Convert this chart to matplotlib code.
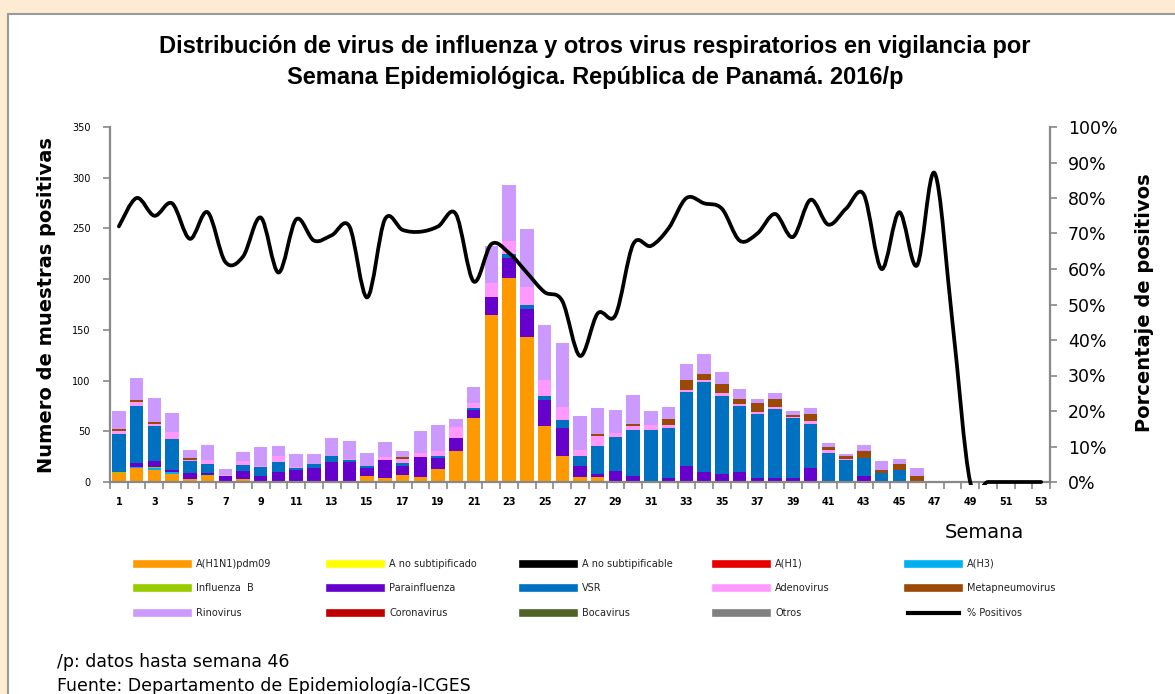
import matplotlib

matplotlib.use("Agg")
import matplotlib.pyplot as plt
import numpy as np
from matplotlib.lines import Line2D
from matplotlib.patches import PathPatch, Rectangle
from matplotlib.path import Path

# semanas con datos de laboratorio (hasta semana 46)
weeks = list(range(1, 47))
all_weeks = list(range(1, 54))

h1n1pdm09 = [9, 14, 12, 8, 3, 6, 0, 3, 0, 0, 0, 0, 0, 0, 6, 4, 7, 5, 13, 31,
             63, 165, 201, 143, 55, 26, 5, 5, 0, 0, 0, 0, 0, 0, 0, 0, 0, 0, 0, 0,
             0, 0, 0, 0, 0, 0]
a_no_subtipificado = [0] * 46
a_no_subtipificable = [0] * 46
a_h1 = [0] * 46
a_h3 = [0, 1, 2, 1.5, 0, 0, 0, 0, 0, 0, 0, 0, 0, 0, 0, 0, 0, 0, 0, 0,
        0, 0, 0, 0, 0, 0, 0, 0, 0, 0, 0, 0, 0, 0, 0, 0, 0, 0, 0, 0,
        0, 0, 0, 0, 0, 0]
influenza_b = [1, 0, 1, 0, 0, 1, 0, 0, 0, 0, 0, 0, 0, 0, 0, 0, 0, 0, 0, 0,
               0, 0, 0, 0, 0, 0, 0, 0, 0, 0, 0, 0, 0, 0, 0, 0, 0, 0, 0, 0,
               0, 0, 0, 0, 0, 0]
parainfluenza = [0, 4, 6, 2, 5.5, 2, 6, 7.5, 6, 10, 12, 13.5, 19.5, 19.5, 7.5, 17.5,
                 9, 20, 10.5, 12, 7.5, 17.5, 20, 27.5, 25.5, 27, 11, 3, 11, 6,
                 0, 4, 16, 9.5, 8, 9.5, 4, 4, 4, 13.5, 0, 0, 5.5, 0, 0, 0]
vsr = [37, 56, 34, 31, 12, 9, 0, 6, 9, 10, 2, 4, 6, 2.5, 2.5, 0, 3, 0, 2, 0,
       2, 0, 4, 4, 4, 8, 10, 27.5, 33.5, 45, 51, 49, 73, 89, 77, 65, 63, 68, 59, 44,
       29, 22, 18, 8.5, 11.5, 0]
adenovirus = [3, 4, 2.5, 6.5, 1.5, 4, 1, 4.5, 1, 5.5, 1, 0, 0, 1, 0, 3, 4, 3.5, 5.5, 11,
              5, 14, 13, 17.5, 16, 13, 6, 10, 4, 4, 5.5, 3.5, 2, 2, 2.5, 2, 2.3, 2.3, 1, 2.3,
              2.3, 0.7, 0, 0, 0, 0]
metapneumovirus = [2, 2, 2, 0, 2, 0, 0, 0, 0, 0, 0, 0, 0, 0, 0, 0, 2, 0, 0, 0,
                   0, 0, 0, 0, 0, 0, 0, 2, 0, 2, 0, 5.5, 10, 6, 9, 5.5, 9, 7.5, 1.6, 7.5,
                   3.3, 3.3, 7.5, 3.3, 6, 6]
rinovirus = [18, 22, 23, 19, 8, 14, 6, 9, 19, 10, 12.5, 10, 17.5, 17, 13, 15, 6, 22, 25.5, 8,
             16, 36, 55, 57, 54, 63, 33.5, 25, 22, 29, 13.5, 12, 15.5, 19.5, 12, 10, 4, 6, 4.3, 5.6,
             4.3, 2, 5.6, 9.2, 5.6, 7.6]
coronavirus = [0] * 46
bocavirus = [0] * 46
otros = [0] * 46

pct_positivos = [72, 80, 75, 78.5, 68.5, 76, 62, 63.5, 74.5, 59, 74, 68, 69.5, 72, 52, 74,
                 71, 70.5, 72, 75.5, 56.5, 67, 64.5, 59, 53.5, 51, 35.5, 47.5, 47, 67,
                 66.5, 71.5, 80, 78.5, 77, 68, 70, 75.5, 69, 79.5, 72.5, 77, 81, 60, 76,
                 61, 87, 45, 0, 0, 0, 0, 0]

series = [
    ("A(H1N1)pdm09", h1n1pdm09, "#FF9900"),
    ("A no subtipificado", a_no_subtipificado, "#FFFF00"),
    ("A no subtipificable", a_no_subtipificable, "#000000"),
    ("A(H1)", a_h1, "#E60000"),
    ("A(H3)", a_h3, "#00B0F0"),
    ("Influenza  B", influenza_b, "#99CC00"),
    ("Parainfluenza", parainfluenza, "#6600CC"),
    ("VSR", vsr, "#0070C0"),
    ("Adenovirus", adenovirus, "#FF99FF"),
    ("Metapneumovirus", metapneumovirus, "#9A4A06"),
    ("Rinovirus", rinovirus, "#CC99FF"),
    ("Coronavirus", coronavirus, "#C00000"),
    ("Bocavirus", bocavirus, "#4F6228"),
    ("Otros", otros, "#808080"),
]

GRAY = "#888888"
W, H = 1175, 694


def fx(px):
    return px / W


def fy(py):
    return 1 - py / H


def smooth_path(xs, ys):
    # curva suavizada tipo Excel (Catmull-Rom -> Bezier cubica)
    verts = [(xs[0], ys[0])]
    codes = [Path.MOVETO]
    n = len(xs)
    for i in range(n - 1):
        x0, y0 = (xs[i - 1], ys[i - 1]) if i > 0 else (xs[i], ys[i])
        x1, y1 = xs[i], ys[i]
        x2, y2 = xs[i + 1], ys[i + 1]
        x3, y3 = (xs[i + 2], ys[i + 2]) if i + 2 < n else (x2, y2)
        verts += [(x1 + (x2 - x0) / 6, y1 + (y2 - y0) / 6),
                  (x2 - (x3 - x1) / 6, y2 - (y3 - y1) / 6),
                  (x2, y2)]
        codes += [Path.CURVE4] * 3
    return Path(verts, codes)


fig = plt.figure(figsize=(W / 100, H / 100), dpi=100)
fig.patch.set_facecolor("#FDEBD3")
fig.add_artist(Rectangle((fx(8), -0.05), 1.2, fy(14) + 0.05, transform=fig.transFigure,
                         facecolor="white", edgecolor="#9A9A9A", linewidth=1.5, zorder=0))

ax = fig.add_axes([fx(110), fy(482), fx(940), 355 / H])
ax.set_facecolor("none")

bottom = np.zeros(len(weeks))
for name, vals, color in series:
    v = np.array(vals, dtype=float)
    ax.bar(weeks, v, width=0.76, bottom=bottom, color=color, linewidth=0, zorder=2)
    bottom += v

ax.set_xlim(0.5, 53.5)
ax.set_ylim(0, 350)
ax.set_yticks(range(0, 351, 50))
ax.set_xticks(range(1, 54, 2))
ax.set_xticklabels([str(w) for w in range(1, 54, 2)], fontsize=7, fontweight="bold")
ax.set_xticks(np.arange(0.5, 54, 1), minor=True)
ax.tick_params(axis="x", which="major", length=0, pad=11)
ax.tick_params(axis="x", which="minor", length=5, width=1.2, color=GRAY, direction="out")
ax.tick_params(axis="y", length=5, width=1.2, color=GRAY, labelsize=7, pad=9)
for s in ("top", "right"):
    ax.spines[s].set_visible(False)
for s in ("left", "bottom"):
    ax.spines[s].set_color(GRAY)
    ax.spines[s].set_linewidth(1.6)

ax2 = ax.twinx()
ax2.set_ylim(0, 100)
ax2.set_yticks(range(0, 101, 10))
ax2.set_yticklabels([f"{v}%" for v in range(0, 101, 10)], fontsize=12.5)
ax2.tick_params(axis="y", length=5, width=1.2, color=GRAY, pad=8)
for s in ("top", "left", "bottom"):
    ax2.spines[s].set_visible(False)
ax2.spines["right"].set_color(GRAY)
ax2.spines["right"].set_linewidth(1.6)

line = PathPatch(smooth_path(all_weeks, pct_positivos), facecolor="none", edgecolor="black",
                 linewidth=2.7, capstyle="round", joinstyle="round", zorder=3)
ax2.add_patch(line)
line.set_clip_path(Rectangle((0, -0.008), 1, 1.1, transform=ax2.transAxes))

fig.text(fx(595), fy(62),
         "Distribución de virus de influenza y otros virus respiratorios en vigilancia por\n"
         "Semana Epidemiológica. República de Panamá. 2016/p",
         ha="center", va="center", fontsize=17, fontweight="bold",
         family="Liberation Sans", linespacing=1.4)
fig.text(fx(47), fy(305), "Numero de muestras positivas", rotation=90, ha="center", va="center",
         fontsize=14, fontweight="bold")
fig.text(fx(1145), fy(303), "Porcentaje de positivos", rotation=90, ha="center", va="center",
         fontsize=14, fontweight="bold")
fig.text(fx(984), fy(533), "Semana", ha="center", va="center", fontsize=14)

# leyenda en 3 filas x 5 columnas
col_x = [137, 330, 523, 716, 908]
row_y = [564, 588, 613]
legend_items = [(n, c) for n, _, c in series] + [("% Positivos", "black")]
for i, (name, color) in enumerate(legend_items):
    r, c = divmod(i, 5)
    x0, y0 = col_x[c], row_y[r]
    lw = 3 if name == "% Positivos" else 5.5
    fig.add_artist(Line2D([fx(x0), fx(x0 + 51)], [fy(y0), fy(y0)], color=color, linewidth=lw,
                          transform=fig.transFigure))
    fig.text(fx(x0 + 59), fy(y0), name, ha="left", va="center", fontsize=7, color="#222222")

fig.text(fx(57), fy(662), "/p: datos hasta semana 46", ha="left", va="center", fontsize=12.5)
fig.text(fx(57), fy(686), "Fuente: Departamento de Epidemiología-ICGES", ha="left", va="center",
         fontsize=12.5)

fig.savefig("out.png", dpi=100, facecolor=fig.get_facecolor())
